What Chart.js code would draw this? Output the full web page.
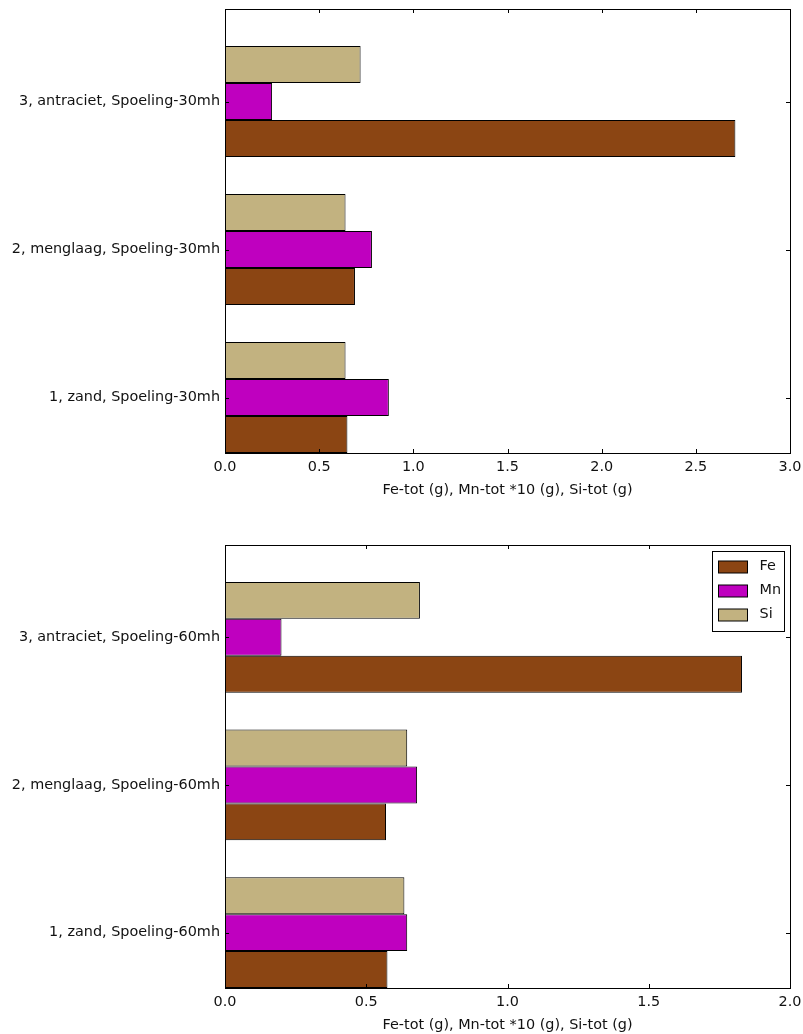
<!DOCTYPE html>
<html>
<head>
<meta charset="utf-8">
<script src="https://cdn.jsdelivr.net/npm/chart.js@4/dist/chart.umd.min.js"></script>
<style>
  body { margin: 0; background: #fff; }
  canvas { display: block; }
</style>
</head>
<body>
<canvas id="chart30" width="803" height="499"></canvas>
<canvas id="chart60" width="803" height="535"></canvas>
<script>
// rinse at 30 m/h
const labels30 = ["1, zand, Spoeling-30mh", "2, menglaag, Spoeling-30mh", "3, antraciet, Spoeling-30mh"];
const fe30 = [0.65, 0.69, 2.71];
const mn30 = [0.87, 0.78, 0.25];
const si30 = [0.64, 0.64, 0.72];
const xTicks30 = [0, 0.5, 1, 1.5, 2, 2.5, 3];

// rinse at 60 m/h
const labels60 = ["1, zand, Spoeling-60mh", "2, menglaag, Spoeling-60mh", "3, antraciet, Spoeling-60mh"];
const fe60 = [0.575, 0.57, 1.83];
const mn60 = [0.645, 0.68, 0.20];
const si60 = [0.635, 0.645, 0.69];
const xTicks60 = [0, 0.5, 1, 1.5, 2];

const axisTitle = "Fe-tot (g), Mn-tot *10 (g), Si-tot (g)";
const colors = { Fe: "#8B4513", Mn: "#BF00BF", Si: "#C2B280" };
const yMin = -0.375, yMax = 2.625;

Chart.defaults.font.family = "'DejaVu Sans', sans-serif";
Chart.defaults.font.size = 14.4;
Chart.defaults.color = "#111";

// axes box plus inward tick marks on all four sides
const framePlugin = {
    id: "frame",
    afterDatasetsDraw(chart) {
        const { ctx, chartArea: a, scales } = chart;
        const tick = 4;
        ctx.save();
        ctx.strokeStyle = "#000";
        ctx.lineWidth = 1;
        ctx.beginPath();
        scales.x.ticks.forEach(t => {
            const px = Math.round(scales.x.getPixelForValue(t.value)) + 0.5;
            ctx.moveTo(px, a.bottom); ctx.lineTo(px, a.bottom - tick);
            ctx.moveTo(px, a.top); ctx.lineTo(px, a.top + tick);
        });
        scales.y.ticks.forEach(t => {
            const py = Math.round(scales.y.getPixelForValue(t.value)) + 0.5;
            ctx.moveTo(a.left, py); ctx.lineTo(a.left + tick, py);
            ctx.moveTo(a.right, py); ctx.lineTo(a.right - tick, py);
        });
        ctx.stroke();
        ctx.strokeRect(Math.round(a.left) + 0.5, Math.round(a.top) + 0.5,
            Math.round(a.right - a.left), Math.round(a.bottom - a.top));
        ctx.restore();
    }
};

// framed legend in the upper right corner of the plot
const boxLegend = {
    id: "boxLegend",
    afterDraw(chart, args, opts) {
        if (!opts.show) return;
        const { ctx, chartArea: a } = chart;
        const items = chart.data.datasets.slice().reverse();
        const w = 72, h = 80;
        const x0 = Math.round(a.right - 6 - w) + 0.5;
        const y0 = Math.round(a.top + 6) + 0.5;
        ctx.save();
        ctx.fillStyle = "#fff";
        ctx.fillRect(x0, y0, w, h);
        ctx.strokeStyle = "#000";
        ctx.lineWidth = 1;
        ctx.strokeRect(x0, y0, w, h);
        ctx.font = "14.4px 'DejaVu Sans', sans-serif";
        ctx.textBaseline = "middle";
        items.forEach((ds, i) => {
            const cy = y0 + 15 + i * 24;
            ctx.fillStyle = ds.backgroundColor;
            ctx.fillRect(x0 + 6, Math.round(cy - 6), 29, 12);
            ctx.strokeRect(x0 + 6, Math.round(cy - 6), 29, 12);
            ctx.fillStyle = "#111";
            ctx.fillText(ds.label, x0 + 47, cy);
        });
        ctx.restore();
    }
};

function makeChart(id, labels, fe, mn, si, xTicks, padTop, showLegend) {
    const toPoints = vals => vals.map((v, i) => ({ x: v, y: i }));
    const series = [["Si", si], ["Mn", mn], ["Fe", fe]];
    return new Chart(document.getElementById(id), {
        type: "bar",
        data: {
            datasets: series.map(([name, vals]) => ({
                label: name,
                data: toPoints(vals),
                backgroundColor: colors[name],
                borderColor: "#000",
                borderWidth: 1,
                borderSkipped: false,
                inflateAmount: 0,
                categoryPercentage: 0.75,
                barPercentage: 1.0
            }))
        },
        options: {
            indexAxis: "y",
            responsive: false,
            animation: false,
            layout: { padding: { top: padTop, right: 13, left: 0, bottom: 0 } },
            plugins: {
                legend: { display: false },
                tooltip: { enabled: false },
                boxLegend: { show: showLegend }
            },
            scales: {
                x: {
                    type: "linear",
                    min: xTicks[0],
                    max: xTicks[xTicks.length - 1],
                    grid: { display: false, drawTicks: false },
                    border: { display: false },
                    afterBuildTicks: s => { s.ticks = xTicks.map(v => ({ value: v })); },
                    afterFit: s => { s.height = 46; s.paddingLeft = 0; s.paddingRight = 0; },
                    ticks: { padding: 6, callback: v => v.toFixed(1) },
                    title: { display: true, text: axisTitle, padding: { top: 0, bottom: 0 } }
                },
                y: {
                    type: "linear",
                    offset: false,
                    min: yMin,
                    max: yMax,
                    grid: { display: false, drawTicks: false, offset: false },
                    border: { display: false },
                    afterBuildTicks: s => {
                        s.ticks = labels.map((l, i) => ({ value: i }));
                        s.min = yMin;
                        s.max = yMax;
                    },
                    afterFit: s => { s.width = 225; s.paddingTop = 0; s.paddingBottom = 0; },
                    ticks: { padding: 5, callback: v => labels[v] }
                }
            }
        },
        plugins: [framePlugin, boxLegend]
    });
}

makeChart("chart30", labels30, fe30, mn30, si30, xTicks30, 9, false);
makeChart("chart60", labels60, fe60, mn60, si60, xTicks60, 46, true);
</script>
</body>
</html>
